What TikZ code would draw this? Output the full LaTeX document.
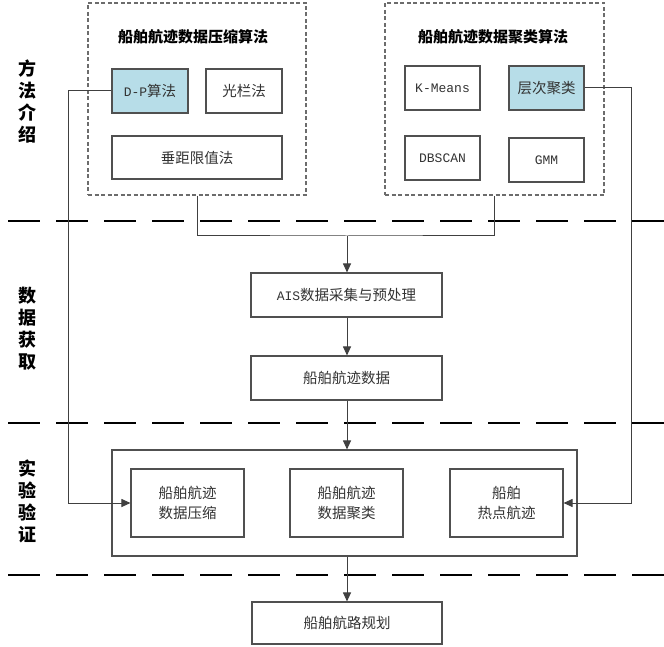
\documentclass[tikz,border=0pt]{standalone}
\usepackage{fontspec}
\setmainfont{Noto Sans CJK SC}
\newfontfamily\lat{Liberation Mono}
\usetikzlibrary{arrows.meta}
\definecolor{hl}{HTML}{B7DDE8}
\definecolor{bord}{HTML}{505050}
\definecolor{txt}{HTML}{333333}
\begin{document}
\begin{tikzpicture}[x=1pt,y=-1pt,
  box/.style={draw=bord,line width=1.1pt,fill=white,inner sep=0pt,align=center,font=\fontsize{14.5}{20}\selectfont,text=txt},
  hbox/.style={box,fill=hl},
  dbox/.style={draw=gray!85!black,line width=1.1pt,dash pattern=on 4pt off 2.5pt,inner sep=0pt},
  ttl/.style={font=\fontsize{15}{18}\selectfont\bfseries,inner sep=0pt},
  sect/.style={font=\fontsize{18}{22}\selectfont\bfseries,align=center,inner sep=0pt},
  sep/.style={line width=2pt,dash pattern=on 32pt off 16pt},
  conn/.style={draw=bord!80!black,line width=1pt},
  arr/.style={conn,-{Triangle[length=9pt,width=8pt]}}]
\useasboundingbox (0,0) rectangle (664,647);
% separators
\draw[sep] (8,221) -- (664,221);
\draw[sep] (8,423) -- (664,423);
\draw[sep] (8,575) -- (664,575);
% section labels
\node[sect] (s1) at (27,102) {方\\法\\介\\绍};
\node[sect] (s2) at (27,329) {数\\据\\获\\取};
\node[sect] (s3) at (27,501) {实\\验\\验\\证};
% dashed groups
\node[dbox,minimum width=218pt,minimum height=192pt] (g1) at (197,99) {};
\node[dbox,minimum width=219pt,minimum height=192pt] (g2) at (494.5,99) {};
\node[ttl] (t1) at (193,37) {船舶航迹数据压缩算法};
\node[ttl] (t2) at (493,37) {船舶航迹数据聚类算法};
% method boxes
\node[hbox,minimum width=76pt,minimum height=44pt] (dp) at (150,91) {{\lat\fontsize{13}{15}\selectfont D-P}算法};
\node[box,minimum width=76pt,minimum height=44pt] (gl) at (244,91) {光栏法};
\node[box,minimum width=170pt,minimum height=43pt] (cj) at (197,157.5) {垂距限值法};
\node[box,minimum width=75pt,minimum height=44pt,font=\lat\fontsize{13}{15}\selectfont] (km) at (442.5,88) {K-Means};
\node[hbox,minimum width=75pt,minimum height=44pt] (cc) at (546.5,88) {层次聚类};
\node[box,minimum width=75pt,minimum height=44pt,font=\lat\fontsize{13}{15}\selectfont] (db) at (442.5,158) {DBSCAN};
\node[box,minimum width=75pt,minimum height=44pt,font=\lat\fontsize{13}{15}\selectfont] (gm) at (546.5,160) {GMM};
% data boxes
\node[box,minimum width=191pt,minimum height=44pt] (ais) at (346.5,295) {{\lat\fontsize{13}{15}\selectfont AIS}数据采集与预处理};
\node[box,minimum width=191pt,minimum height=44pt] (data) at (346.5,378) {船舶航迹数据};
% experiment
\node[box,minimum width=465pt,minimum height=106pt] (big) at (344.5,503) {};
\node[box,minimum width=113pt,minimum height=68pt] (b1) at (187.5,503) {船舶航迹\\数据压缩};
\node[box,minimum width=113pt,minimum height=68pt] (b2) at (346.5,503) {船舶航迹\\数据聚类};
\node[box,minimum width=113pt,minimum height=68pt] (b3) at (506.5,503) {船舶\\热点航迹};
\node[box,minimum width=190pt,minimum height=42pt] (route) at (347,623) {船舶航路规划};
% connectors
\coordinate (j) at (347,236);
\coordinate (lx) at (68,91);
\coordinate (rx) at (631,88);
\draw[conn] (g1.south) |- (j) -| (g2.south);
\draw[arr] (j) -- (j |- ais.north);
\draw[arr] (ais.south -| j) -- (j |- data.north);
\draw[arr] (data.south -| j) -- (j |- big.north);
\draw[arr] (big.south -| j) -- (j |- route.north);
\draw[arr] (dp.west) -- (lx) |- (b1.west);
\draw[arr] (cc.east) -- (rx) |- (b3.east);
\end{tikzpicture}
\end{document}
